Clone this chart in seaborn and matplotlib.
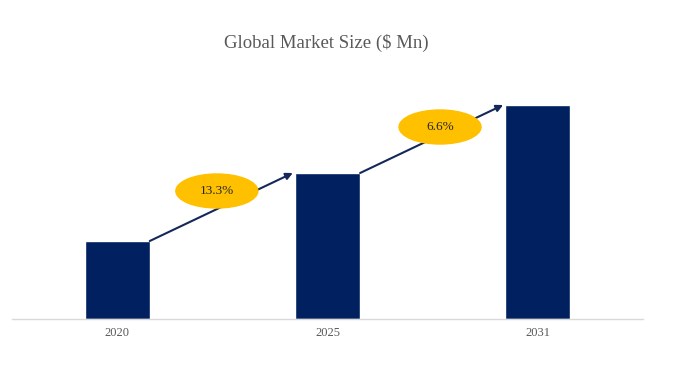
import numpy as np
import pandas as pd
import seaborn as sns
import matplotlib.pyplot as plt
from matplotlib.patches import Ellipse

# values (relative size, $ Mn)
years = ['2020', '2025', '2031']
market_size = [78, 146, 214]
cagr_labels = ['13.3%', '6.6%']

bar_color = '#00205F'
arrow_color = '#14285A'
badge_color = '#FFC000'

sns.set_theme(style='white')
plt.rcParams['font.family'] = ['Liberation Serif', 'DejaVu Serif']

df = pd.DataFrame({'year': years, 'size': market_size})

fig = plt.figure(figsize=(6.73, 3.73), dpi=100)
ax = fig.add_axes([12 / 673, 1 - 319 / 373, 631 / 673, 244 / 373])

bar_w = 0.31
sns.barplot(data=df, x='year', y='size', color=bar_color, width=bar_w,
            saturation=1, ax=ax)

ax.set_xlim(-0.5, 2.5)
ax.set_ylim(0, 244)
ax.set_yticks([])
ax.set_xlabel('')
ax.set_ylabel('')
for s in ['top', 'right', 'left']:
    ax.spines[s].set_visible(False)
ax.spines['bottom'].set_color('#D9D9D9')
ax.spines['bottom'].set_linewidth(1)
ax.tick_params(axis='x', length=0, pad=6, labelsize=9, labelcolor='#595959')

# growth arrows + CAGR badges
badge_shift = [(-0.021, 16), (0.04, 12)]
for i, lab in enumerate(cagr_labels):
    x0, y0 = i + bar_w / 2, market_size[i]
    x1, y1 = i + 1 - bar_w / 2 - 0.01, market_size[i + 1]
    ax.annotate('', xy=(x1, y1), xytext=(x0, y0),
                arrowprops=dict(arrowstyle='-|>', color=arrow_color, lw=1.5,
                                mutation_scale=10, shrinkA=0, shrinkB=0))
    cx = (x0 + x1) / 2 + badge_shift[i][0]
    cy = (y0 + y1) / 2 + badge_shift[i][1]
    ax.add_patch(Ellipse((cx, cy), 0.39, 34, color=badge_color, zorder=4))
    ax.text(cx, cy, lab, ha='center', va='center', fontsize=9.5,
            color='#262626', zorder=5)

fig.text(326.5 / 673, 1 - 43 / 373, 'Global Market Size ($ Mn)', ha='center',
         va='center', fontsize=13.5, color='#595959')

fig.savefig('out.png', dpi=100)
